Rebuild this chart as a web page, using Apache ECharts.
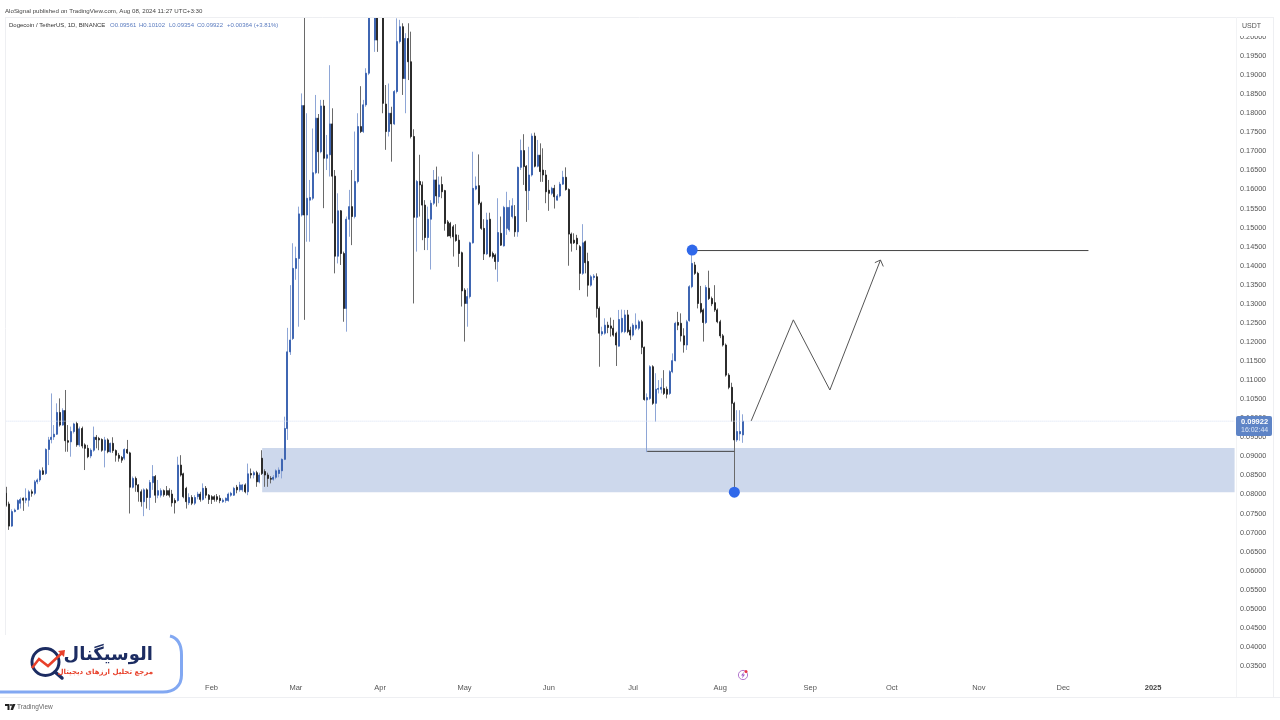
<!DOCTYPE html>
<html><head><meta charset="utf-8">
<style>html,body{margin:0;padding:0;background:#fff}#c{width:1280px;height:720px}</style>
<script src="https://cdn.jsdelivr.net/npm/echarts@6/dist/echarts.min.js"></script>
</head><body><div id="c"></div>
<script>
const opens=[
.0803,.0775,.0717,.0755,.0761,.0777,.0790,.0785,.0785,.0807,
.0803,.0833,.0838,.0862,.0855,.0918,.0944,.0951,.0958,.1015,
.0982,.1020,.0941,.0938,.0965,.0986,.0930,.0973,.0930,.0921,
.0901,.0916,.0950,.0947,.0944,.0916,.0943,.0912,.0934,.0915,
.0903,.0897,.0895,.0918,.0909,.0819,.0842,.0825,.0807,.0781,
.0812,.0792,.0831,.0847,.0798,.0798,.0810,.0810,.0810,.0801,
.0784,.0784,.0877,.0854,.0816,.0778,.0792,.0777,.0794,.0801,
.0787,.0816,.0798,.0794,.0794,.0794,.0790,.0781,.0784,.0784,
.0798,.0798,.0819,.0812,.0812,.0825,.0807,.0855,.0851,.0857,
.0833,.0895,.0860,.0851,.0842,.0840,.0845,.0855,.0862,.0892,
.0973,.1174,.1209,.1393,.1419,.1533,.1820,.1533,.1572,.1577,
.1644,.1787,.1699,.1819,.1682,.1691,.1772,.1635,.1425,.1544,
.1432,.1288,.1522,.1555,.1529,.1621,.1765,.1752,.1822,.1905,
.2080,.1992,.2120,.2080,.2190,.1824,.1752,.1800,.1772,.1857,
.1988,.2027,.1891,.1996,.1935,.1739,.1527,.1621,.1612,.1559,
.1474,.1522,.1564,.1625,.1581,.1613,.1597,.1515,.1511,.1502,
.1481,.1467,.1434,.1336,.1301,.1319,.1460,.1601,.1610,.1564,
.1498,.1431,.1522,.1432,.1428,.1411,.1485,.1452,.1498,.1494,
.1529,.1529,.1489,.1658,.1702,.1661,.1597,.1638,.1740,.1661,
.1690,.1651,.1638,.1598,.1590,.1603,.1572,.1583,.1614,.1632,
.1600,.1483,.1467,.1472,.1450,.1380,.1463,.1411,.1349,.1369,
.1371,.1288,.1221,.1223,.1244,.1242,.1236,.1223,.1189,.1227,
.1227,.1271,.1231,.1218,.1236,.1236,.1253,.1186,.1048,.1052,
.1135,.1039,.1076,.1076,.1078,.1076,.1065,.1122,.1151,.1251,
.1249,.1216,.1192,.1256,.1345,.1402,.1380,.1301,.1284,.1251,
.1341,.1314,.1303,.1284,.1253,.1216,.1192,.1113,.1081,.1039,
.0943,.0959,.09561];
const closes=[
.0772,.0717,.0755,.0759,.0784,.0787,.0785,.0790,.0807,.0803,
.0833,.0838,.0862,.0853,.0918,.0943,.0950,.0958,.1015,.0982,
.1020,.0941,.0937,.0965,.0985,.0930,.0972,.0927,.0921,.0899,
.0916,.0950,.0944,.0943,.0916,.0943,.0912,.0934,.0915,.0903,
.0895,.0890,.0918,.0909,.0819,.0842,.0825,.0807,.0781,.0812,
.0792,.0831,.0847,.0798,.0810,.0810,.0799,.0799,.0798,.0778,
.0778,.0877,.0851,.0794,.0781,.0792,.0777,.0792,.0801,.0787,
.0816,.0798,.0787,.0787,.0787,.0787,.0784,.0785,.0790,.0801,
.0803,.0816,.0812,.0825,.0825,.0807,.0854,.0851,.0857,.0833,
.0851,.0855,.0851,.0842,.0840,.0845,.0862,.0864,.0892,.0973,
.1174,.1205,.1393,.1419,.1536,.1820,.1533,.1577,.1579,.1644,
.1787,.1699,.1819,.1682,.1691,.1772,.1635,.1425,.1544,.1432,
.1288,.1522,.1555,.1529,.1621,.1765,.1752,.1822,.1905,.2080,
.2150,.2120,.1992,.2190,.1826,.1752,.1800,.1772,.1857,.1988,
.2027,.1891,.1996,.1935,.1739,.1527,.1621,.1612,.1559,.1474,
.1522,.1564,.1625,.1583,.1612,.1594,.1511,.1478,.1478,.1476,
.1466,.1432,.1334,.1301,.1319,.1460,.1603,.1609,.1564,.1498,
.1431,.1520,.1425,.1424,.1411,.1487,.1454,.1553,.1553,.1553,
.1557,.1489,.1658,.1702,.1660,.1597,.1638,.1740,.1661,.1690,
.1647,.1638,.1594,.1590,.1603,.1581,.1583,.1614,.1632,.1600,
.1483,.1459,.1460,.1457,.1380,.1460,.1408,.1349,.1371,.1373,
.1288,.1223,.1227,.1244,.1238,.1236,.1218,.1192,.1259,.1262,
.1271,.1227,.1218,.1244,.1244,.1253,.1186,.1049,.1054,.1135,
.1039,.1076,.1078,.1081,.1065,.1063,.1122,.1151,.1249,.1244,
.1216,.1192,.1253,.1345,.1406,.1380,.1301,.1279,.1251,.1343,
.1314,.1300,.1284,.1253,.1216,.1192,.1113,.1081,.1039,.0943,
.0965,.0965,.09922];
const lows=[
.0768,.0707,.0715,.0753,.0759,.0763,.0757,.0777,.0768,.0794,
.0798,.0827,.0833,.0851,.0851,.0877,.0934,.0943,.0956,.0978,
.0980,.0912,.0912,.0899,.0960,.0925,.0925,.0921,.0864,.0895,
.0895,.0912,.0921,.0916,.0912,.0871,.0908,.0909,.0909,.0886,
.0886,.0883,.0890,.0906,.0750,.0816,.0807,.0781,.0768,.0743,
.0763,.0759,.0812,.0778,.0790,.0792,.0794,.0796,.0792,.0768,
.0750,.0781,.0847,.0790,.0763,.0772,.0772,.0772,.0787,.0781,
.0784,.0790,.0775,.0775,.0781,.0781,.0777,.0778,.0778,.0781,
.0794,.0796,.0803,.0807,.0807,.0803,.0798,.0842,.0842,.0820,
.0829,.0851,.0820,.0820,.0829,.0836,.0840,.0845,.0842,.0890,
.0943,.1166,.1205,.1363,.1240,.1529,.1258,.1463,.1463,.1572,
.1640,.1642,.1695,.1551,.1651,.1634,.1511,.1380,.1406,.1402,
.1253,.1227,.1476,.1454,.1524,.1616,.1748,.1748,.1817,.1900,
.2060,.1961,.1961,.2070,.1800,.1704,.1739,.1673,.1769,.1852,
.1983,.1848,.1800,.1887,.1734,.1301,.1437,.1529,.1467,.1441,
.1441,.1390,.1559,.1555,.1564,.1577,.1492,.1476,.1472,.1424,
.1463,.1397,.1293,.1201,.1240,.1314,.1458,.1598,.1559,.1494,
.1415,.1428,.1422,.1419,.1390,.1358,.1452,.1450,.1481,.1489,
.1524,.1476,.1476,.1651,.1612,.1515,.1546,.1634,.1658,.1658,
.1620,.1620,.1564,.1544,.1585,.1550,.1571,.1579,.1612,.1597,
.1400,.1437,.1457,.1441,.1336,.1376,.1380,.1319,.1345,.1362,
.1264,.1135,.1216,.1219,.1223,.1214,.1214,.1137,.1188,.1223,
.1223,.1223,.1205,.1214,.1231,.1231,.1168,.1046,.0911,.1048,
.1035,.0991,.1065,.1065,.1061,.1052,.1061,.1118,.1149,.1231,
.1201,.1172,.1179,.1253,.1341,.1376,.1288,.1275,.1201,.1247,
.1310,.1294,.1279,.1249,.1210,.1188,.1109,.1076,.0991,.0806,
.0938,.0941,.09354];
const highs=[
.0820,.0781,.0761,.0763,.0787,.0792,.0792,.0816,.0812,.0813,
.0838,.0842,.0866,.0871,.0921,.0951,.1065,.0982,.1039,.1052,
.1026,.1074,.0982,.0978,.0988,.0991,.0978,.0978,.0934,.0930,
.0921,.0978,.0956,.0951,.0947,.0951,.0947,.0936,.0950,.0918,
.0909,.0901,.0921,.0943,.0912,.0847,.0847,.0827,.0813,.0816,
.0816,.0838,.0877,.0851,.0838,.0816,.0813,.0822,.0816,.0812,
.0790,.0899,.0903,.0857,.0820,.0803,.0798,.0798,.0807,.0807,
.0829,.0822,.0801,.0798,.0798,.0801,.0798,.0790,.0792,.0805,
.0807,.0820,.0825,.0833,.0827,.0829,.0881,.0868,.0862,.0862,
.0857,.0916,.0866,.0857,.0848,.0851,.0866,.0871,.0895,.1004,
.1237,.1349,.1459,.1450,.1555,.1852,.2150,.1800,.1625,.1760,
.1848,.1798,.1835,.1835,.1743,.1926,.1813,.1651,.1590,.1546,
.1437,.1529,.1599,.1651,.1752,.1800,.1871,.1835,.1918,.2120,
.2180,.2180,.2200,.2200,.2250,.1874,.1878,.1817,.1861,.2049,
.2045,.2036,.2010,.2036,.2014,.1758,.1625,.1691,.1621,.1572,
.1555,.1572,.1651,.1660,.1634,.1634,.1599,.1520,.1515,.1507,
.1509,.1481,.1437,.1341,.1341,.1463,.1699,.1634,.1692,.1568,
.1522,.1539,.1539,.1437,.1432,.1577,.1529,.1557,.1594,.1572,
.1577,.1559,.1660,.1731,.1745,.1664,.1712,.1747,.1749,.1730,
.1721,.1708,.1651,.1625,.1607,.1612,.1588,.1620,.1649,.1658,
.1603,.1487,.1485,.1481,.1454,.1509,.1466,.1434,.1376,.1378,
.1380,.1293,.1240,.1262,.1253,.1264,.1258,.1227,.1284,.1285,
.1284,.1284,.1240,.1249,.1275,.1258,.1258,.1188,.1065,.1139,
.1139,.1118,.1100,.1105,.1126,.1083,.1126,.1170,.1253,.1279,
.1275,.1236,.1258,.1349,.1441,.1410,.1384,.1347,.1288,.1349,
.1387,.1319,.1349,.1288,.1258,.1221,.1196,.1118,.1093,.1043,
.1021,.1021,.10102];
const startDate='2023-11-20', dayCount=438;
const monthLabels={'2024-02-01':'Feb','2024-03-02':'Mar','2024-04-01':'Apr','2024-05-01':'May','2024-05-31':'Jun','2024-06-30':'Jul','2024-07-31':'Aug','2024-09-01':'Sep','2024-09-30':'Oct','2024-10-31':'Nov','2024-11-30':'Dec','2025-01-01':'2025'};
const zoneTop=.0922, zoneBottom=.0806, zoneStart=91;
const lastPrice=.09922;
const resistanceLine=[[244,.14398],[385,.14398]];
const sweepLine=[[228,.0913],[259,.0913]];
const anchorDots=[[244,.1441],[259,.0806]];
const forecastPath=[[265,.0993],[280,.1258],[293,.1074],[311,.1415]];
const arrowHead=[[309,.1408],[311,.1415],[312,.1398]];

const dates=[];
for(let i=0;i<dayCount;i++){const d=new Date(Date.parse(startDate+'T00:00:00Z')+i*864e5);dates.push(d.toISOString().slice(0,10));}
const candles=opens.map((o,i)=>[o,closes[i],lows[i],highs[i]]);
const bodies=opens.map((o,i)=>[o,closes[i],Math.min(o,closes[i]),Math.max(o,closes[i])]);
const FONT='"Liberation Sans",Arial,sans-serif', ARFONT='"DejaVu Sans",sans-serif';
const T=(x,y,text,fill,size,extra)=>({type:'text',x,y,silent:true,z:50,style:Object.assign({text,fill,font:`${size}px ${FONT}`,verticalAlign:'middle'},extra||{})});
const L=(x1,y1,x2,y2,c)=>({type:'line',silent:true,z:40,shape:{x1,y1,x2,y2},style:{stroke:c||'#eeeff2',lineWidth:1}});
const thin=(data,c,extra)=>({type:'line',data,symbol:'none',silent:true,animation:false,z:6,lineStyle:Object.assign({color:c||'#333',width:1},extra||{})});
const PANEL='#82a8f2';

const chart=echarts.init(document.getElementById('c'),null,{renderer:'canvas'});
chart.setOption({
  animation:false,backgroundColor:'#fff',
  grid:{left:5,width:1231,top:17.94,bottom:34.96,containLabel:false},
  xAxis:{type:'category',data:dates,boundaryGap:true,axisLine:{show:false},axisTick:{show:false},splitLine:{show:false},
    axisLabel:{show:true,margin:3,verticalAlign:'middle',fontSize:7.5,fontFamily:FONT,color:'#555',
      interval:(i,v)=>monthLabels[v]!==undefined,
      formatter:v=>monthLabels[v]==='2025'?'{b|2025}':(monthLabels[v]||''),rich:{b:{fontWeight:'bold',fontSize:7.5,fontFamily:FONT,color:'#444'}}}},
  yAxis:{type:'value',position:'right',min:.03,max:.205,interval:.005,axisLine:{show:false},axisTick:{show:false},splitLine:{show:false},
    axisLabel:{margin:4,fontSize:7.3,fontFamily:FONT,color:'#555',formatter:v=>(v>.2001||v<.034)?'':v.toFixed(5)}},
  series:[
    {type:'line',data:[],silent:true,z:1,
     markArea:{silent:true,itemStyle:{color:'#cdd8ec'},data:[[{xAxis:zoneStart,yAxis:zoneTop},{xAxis:dayCount-1,yAxis:zoneBottom}]]}},
    thin([[0,lastPrice],[dayCount-1,lastPrice]],'#d5dff2',{type:'dotted'}),
    {type:'candlestick',data:candles,barWidth:1,z:4,
     itemStyle:{color:'#8ea6d6',color0:'#6a6a6a',borderColor:'#8ea6d6',borderColor0:'#6a6a6a',borderWidth:1}},
    {type:'candlestick',data:bodies,barWidth:1.5,z:5,
     itemStyle:{color:'#3f66b2',color0:'#2c2c2c',borderColor:'#3f66b2',borderColor0:'#2c2c2c',borderWidth:1}},
    thin(resistanceLine,'#444'),thin(sweepLine,'#444'),thin(forecastPath,'#555'),thin(arrowHead,'#555'),
    {type:'scatter',data:anchorDots,symbolSize:11,silent:true,z:8,itemStyle:{color:'#2f68ea',opacity:1}}
  ],
  graphic:{elements:[
    {type:'rect',z:30,silent:true,shape:{x:0,y:0,width:1280,height:17},style:{fill:'#fff'}},
    L(5.5,17,5.5,640),L(5,17.5,1274,17.5),L(1273.5,17,1273.5,697),L(0,697.5,1280,697.5),L(1236.5,17,1236.5,697,'#f2f3f5'),
    T(5,11,'AloSignal published on TradingView.com, Aug 08, 2024 11:27 UTC+3:30','#444',6.15),
    T(9,25,'Dogecoin / TetherUS, 1D, BINANCE','#333',6),
    T(110,25,'O0.09561','#5a7bbf',6),T(139,25,'H0.10102','#5a7bbf',6),T(169,25,'L0.09354','#5a7bbf',6),T(197,25,'C0.09922','#5a7bbf',6),T(227,25,'+0.00364 (+3.81%)','#5a7bbf',6),
    {type:'rect',z:45,silent:true,shape:{x:1238,y:19,width:35,height:17},style:{fill:'#fff'}},
    T(1242,26.5,'USDT','#555',7),
    {type:'rect',z:45,silent:true,shape:{x:1236,y:416,width:36,height:20,r:2},style:{fill:'#5e84c6'}},
    T(1241,422,'0.09922','#fff',7.5,{font:`bold 7.5px ${FONT}`}),T(1241,430.5,'16:02:44','#dbe5f5',7),
    {type:'circle',z:45,silent:true,shape:{cx:743,cy:675,r:4.6},style:{fill:'#fff',stroke:'#b478cf',lineWidth:1}},
    {type:'polygon',z:46,silent:true,shape:{points:[[744,671.8],[741,675.6],[742.8,675.6],[742,678.4],[745,674.4],[743.2,674.4]]},style:{fill:'#a45cc6'}},
    {type:'circle',z:46,silent:true,shape:{cx:746,cy:671.5,r:1.5},style:{fill:'#e8344a'}},
    {type:'rect',z:60,silent:true,shape:{x:-10,y:635,width:191.5,height:57,r:[0,17,17,0]},style:{fill:'#fff'}},
    {type:'bezierCurve',z:61,silent:true,shape:{x1:170,y1:636,cpx1:178,cpy1:638,cpx2:181.5,cpy2:645,x2:181.5,y2:655},style:{fill:'none',stroke:PANEL,lineWidth:3}},
    {type:'line',z:61,silent:true,shape:{x1:181.5,y1:655,x2:181.5,y2:675},style:{stroke:PANEL,lineWidth:3}},
    {type:'bezierCurve',z:61,silent:true,shape:{x1:181.5,y1:675,cpx1:181.5,cpy1:686,cpx2:174,cpy2:692,x2:163,y2:692},style:{fill:'none',stroke:PANEL,lineWidth:3}},
    {type:'line',z:61,silent:true,shape:{x1:0,y1:692,x2:163,y2:692},style:{stroke:PANEL,lineWidth:3}},
    {type:'circle',z:62,silent:true,shape:{cx:45.5,cy:662,r:13.5},style:{fill:'#fff',stroke:'#1c2c62',lineWidth:3}},
    {type:'line',z:62,silent:true,shape:{x1:55,y1:672,x2:62,y2:678},style:{stroke:'#1c2c62',lineWidth:3.5,lineCap:'round'}},
    {type:'polyline',z:63,silent:true,shape:{points:[[32,668],[39,659],[48,666],[62,653]]},style:{fill:'none',stroke:'#e8402a',lineWidth:2.5}},
    {type:'polygon',z:63,silent:true,shape:{points:[[58,651],[65,650],[64,657]]},style:{fill:'#e8402a'}},
    {type:'text',z:64,silent:true,x:153,y:655,style:{text:'الوسیگنال',fill:'#1c2c62',font:`bold 18px ${ARFONT}`,textAlign:'right',verticalAlign:'middle'}},
    {type:'text',z:64,silent:true,x:153,y:672.5,style:{text:'مرجع تحلیل ارزهای دیجیتال',fill:'#e8402a',font:`bold 7px ${ARFONT}`,textAlign:'right',verticalAlign:'middle'}},
    {type:'polygon',z:50,silent:true,shape:{points:[[5,704],[9.5,704],[9.5,710],[7.5,710],[7.5,706],[5,706]]},style:{fill:'#222'}},
    {type:'polygon',z:50,silent:true,shape:{points:[[12.5,704],[15.5,704],[13,710],[10.5,710]]},style:{fill:'#222'}},
    {type:'circle',z:50,silent:true,shape:{cx:11,cy:705,r:1},style:{fill:'#222'}},
    T(17,707,'TradingView','#666',6.5)
  ]}
});
</script></body></html>
